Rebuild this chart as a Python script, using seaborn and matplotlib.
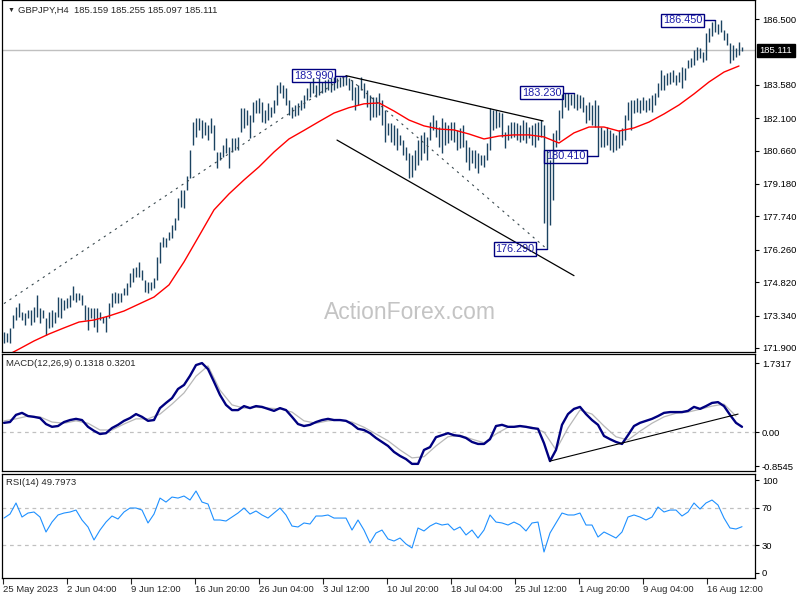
import numpy as np
import matplotlib
matplotlib.use("Agg")
import matplotlib.pyplot as plt
import matplotlib.transforms as mtransforms
import seaborn as sns

# GBPJPY H4 bars, 25 May 2023 - 18 Aug 2023
bar_high = [
    172.61, 172.57, 172.79, 173.36, 173.72, 173.90, 173.50, 173.45, 173.59, 173.59,
    173.72, 174.25, 173.67, 173.59, 173.23, 173.50, 173.59, 173.50, 174.16, 174.12,
    174.03, 174.12, 174.25, 174.65, 174.34, 174.34, 174.25, 173.81, 173.72, 173.67,
    173.67, 173.67, 173.50, 173.28, 173.32, 173.90, 174.34, 174.39, 174.34, 174.34,
    174.56, 174.79, 175.23, 175.45, 175.49, 175.72, 175.36, 174.92, 174.83, 174.83,
    175.01, 175.94, 176.61, 176.83, 176.78, 177.05, 177.36, 177.67, 178.56, 178.91,
    178.91, 179.54, 180.69, 181.93, 182.11, 182.11, 182.02, 181.93, 181.80, 182.11,
    181.80, 180.60, 180.60, 180.91, 181.22, 180.82, 181.22, 181.22, 181.27, 182.55,
    182.55, 182.47, 182.24, 182.82, 182.91, 183.00, 182.82, 182.47, 182.78, 182.60,
    182.91, 183.58, 183.71, 183.58, 183.44, 182.91, 182.60, 182.69, 182.78, 182.91,
    183.13, 183.44, 183.71, 183.89, 183.58, 183.89, 183.71, 183.80, 183.84, 183.89,
    183.93, 183.89, 183.93, 183.98, 183.99, 183.89, 183.80, 183.49, 183.58, 183.95,
    183.66, 183.35, 183.13, 183.04, 183.04, 183.22, 182.91, 182.47, 181.89, 181.89,
    181.80, 181.67, 181.36, 181.13, 180.82, 180.56, 180.47, 180.69, 181.13, 181.36,
    181.49, 181.27, 181.93, 182.24, 182.02, 181.71, 182.11, 181.93, 181.80, 181.93,
    181.93, 181.58, 181.67, 181.80, 181.13, 180.82, 180.69, 180.69, 180.56, 180.47,
    180.47, 181.00, 182.55, 182.47, 182.47, 182.38, 182.33, 181.49, 181.80, 181.93,
    181.93, 181.89, 181.80, 182.02, 181.93, 181.71, 181.80, 181.89, 181.93, 182.02,
    181.80, 180.69, 180.25, 181.45, 181.58, 182.47, 183.18, 183.21, 183.20, 183.19,
    183.23, 183.17, 183.13, 183.04, 182.69, 182.82, 182.69, 182.91, 182.69, 181.71,
    181.58, 181.71, 181.58, 181.45, 181.36, 181.58, 181.67, 182.24, 182.82, 182.91,
    182.91, 183.00, 182.91, 183.04, 182.91, 183.00, 183.13, 183.22, 183.66, 184.24,
    184.02, 184.11, 184.15, 184.24, 184.02, 184.15, 184.38, 184.33, 184.69, 184.77,
    185.13, 185.26, 185.22, 185.04, 185.88, 186.11, 186.37, 186.45, 186.28, 186.44,
    186.02, 185.88, 185.44, 185.35, 185.22, 185.49, 185.26,
]
bar_low = [
    172.12, 172.17, 172.12, 172.79, 173.14, 173.28, 173.14, 172.92, 173.23, 172.92,
    173.05, 173.28, 173.01, 173.23, 172.48, 172.79, 172.83, 173.01, 173.28, 173.23,
    173.59, 173.67, 173.72, 174.03, 173.94, 174.03, 173.81, 173.14, 172.70, 173.23,
    172.83, 172.61, 173.14, 173.01, 172.61, 173.23, 173.72, 173.90, 173.90, 173.94,
    174.25, 174.25, 174.61, 174.83, 175.05, 175.05, 174.92, 174.39, 174.34, 174.47,
    174.56, 174.92, 175.67, 176.38, 176.38, 176.69, 176.78, 177.14, 177.58, 178.16,
    178.11, 178.91, 179.45, 180.91, 181.27, 181.58, 181.22, 181.36, 181.13, 181.45,
    180.69, 179.89, 180.25, 180.38, 180.56, 179.89, 180.60, 180.69, 180.69, 181.49,
    181.67, 181.80, 181.22, 181.93, 182.33, 182.33, 181.93, 181.89, 182.02, 182.16,
    182.33, 182.69, 183.22, 183.00, 182.69, 182.24, 182.11, 182.20, 182.24, 182.47,
    182.55, 182.91, 183.04, 183.22, 183.04, 183.13, 183.22, 183.27, 183.35, 183.27,
    183.35, 183.44, 183.49, 183.53, 183.58, 183.35, 182.91, 182.47, 182.69, 183.35,
    183.00, 182.60, 182.02, 182.16, 182.16, 182.24, 181.80, 181.05, 181.36, 181.05,
    180.91, 180.69, 180.91, 180.47, 180.25, 179.45, 179.49, 179.80, 180.02, 180.25,
    180.56, 180.25, 181.13, 181.58, 181.27, 180.82, 180.56, 180.91, 181.00, 181.13,
    181.05, 180.69, 180.78, 180.82, 180.16, 179.80, 180.11, 179.89, 179.67, 180.02,
    179.94, 180.25, 180.69, 181.58, 181.67, 181.71, 181.27, 180.78, 181.13, 181.22,
    181.27, 181.13, 181.05, 181.13, 181.00, 181.22, 180.91, 180.82, 181.13, 181.27,
    177.45, 176.29, 177.36, 178.47, 180.82, 181.13, 182.11, 182.60, 182.47, 182.69,
    182.55, 182.47, 182.55, 182.38, 181.89, 182.02, 181.80, 181.71, 180.41, 180.82,
    180.82, 180.91, 180.69, 180.60, 180.69, 180.78, 180.91, 181.13, 182.02, 181.58,
    182.33, 182.38, 182.33, 182.47, 182.38, 182.47, 182.38, 182.69, 183.04, 183.35,
    183.35, 183.58, 183.62, 183.71, 183.58, 183.71, 183.44, 183.80, 184.33, 184.38,
    184.46, 184.69, 184.77, 184.60, 184.69, 185.49, 185.75, 185.93, 185.84, 185.93,
    185.57, 185.35, 184.55, 184.69, 184.82, 184.91, 185.10,
]
# red moving average, one reading every 5 bars
ma_line = [
    171.50, 171.85, 172.21, 172.52, 172.79, 173.05, 173.14, 173.32, 173.54, 173.85,
    174.16, 174.70, 175.72, 176.87, 178.03, 178.74, 179.36, 179.94, 180.60, 181.18,
    181.56, 181.95, 182.33, 182.57, 182.74, 182.78, 182.42, 182.02, 181.76, 181.62,
    181.58, 181.40, 181.18, 181.31, 181.36, 181.36, 181.27, 181.00, 181.45, 181.71,
    181.71, 181.53, 181.67, 181.93, 182.29, 182.69, 183.18, 183.71, 184.15, 184.42,
]
# MACD(12,26,9) main line, every 2 bars
macd_main = [
    0.23, 0.25, 0.43, 0.48, 0.40, 0.38, 0.35, 0.20, 0.13, 0.15,
    0.25, 0.30, 0.33, 0.30, 0.13, 0.03, -0.05, -0.03, 0.10, 0.18,
    0.28, 0.35, 0.45, 0.38, 0.28, 0.30, 0.60, 0.73, 0.85, 1.08,
    1.18, 1.41, 1.68, 1.73, 1.58, 1.26, 0.93, 0.68, 0.55, 0.55,
    0.65, 0.60, 0.65, 0.63, 0.58, 0.53, 0.60, 0.55, 0.38, 0.20,
    0.15, 0.18, 0.25, 0.30, 0.33, 0.30, 0.30, 0.28, 0.20, 0.08,
    0.05, -0.03, -0.15, -0.25, -0.35, -0.50, -0.60, -0.68, -0.80, -0.80,
    -0.45, -0.38, -0.13, -0.08, -0.03, -0.08, -0.10, -0.15, -0.25, -0.30,
    -0.30, -0.18, 0.15, 0.18, 0.13, 0.13, 0.15, 0.13, 0.10, 0.08,
    -0.28, -0.73, -0.45, 0.18, 0.45, 0.58, 0.63, 0.45, 0.30, 0.18,
    -0.10, -0.18, -0.25, -0.30, -0.08, 0.15, 0.23, 0.28, 0.33, 0.40,
    0.48, 0.50, 0.50, 0.50, 0.53, 0.63, 0.58, 0.65, 0.73, 0.75,
    0.65, 0.43, 0.23, 0.13,
]
# MACD signal line, every 4 bars
macd_signal = [
    0.28, 0.33, 0.40, 0.38, 0.25, 0.22, 0.28, 0.22, 0.05, 0.05,
    0.20, 0.33, 0.33, 0.45, 0.70, 0.98, 1.40, 1.66, 1.05, 0.68,
    0.60, 0.62, 0.60, 0.58, 0.50, 0.28, 0.22, 0.28, 0.30, 0.25,
    0.12, -0.05, -0.22, -0.45, -0.65, -0.62, -0.35, -0.12, -0.08, -0.18,
    -0.27, -0.05, 0.12, 0.14, 0.12, 0.00, -0.45, 0.10, 0.55, 0.45,
    0.15, -0.12, -0.20, 0.02, 0.22, 0.38, 0.47, 0.50, 0.57, 0.65,
    0.70, 0.40,
]
# RSI(14), every 2 bars
rsi_line = [
    59.1, 63.4, 75.3, 60.2, 64.5, 65.6, 60.2, 44.1, 54.8, 62.4,
    64.5, 65.6, 67.7, 57.0, 49.5, 35.5, 46.2, 54.8, 61.3, 58.1,
    65.6, 69.9, 69.9, 67.7, 53.8, 63.4, 80.6, 76.3, 81.7, 80.6,
    82.8, 78.5, 88.2, 76.3, 74.2, 57.0, 57.0, 55.9, 60.2, 64.5,
    69.9, 63.4, 66.7, 62.4, 59.1, 64.5, 69.9, 62.4, 50.5, 49.5,
    53.8, 52.7, 61.3, 61.3, 62.4, 59.1, 59.1, 59.1, 46.2, 57.0,
    46.2, 32.3, 43.0, 46.2, 36.6, 34.4, 37.6, 31.2, 26.9, 48.4,
    45.2, 50.5, 53.8, 51.6, 52.7, 46.2, 49.5, 40.9, 46.2, 37.6,
    46.2, 62.4, 54.8, 53.8, 51.6, 54.8, 51.6, 45.2, 53.8, 54.8,
    22.6, 43.0, 53.8, 64.5, 62.4, 62.4, 64.5, 51.6, 51.6, 38.7,
    44.1, 40.9, 37.6, 44.1, 60.2, 62.4, 60.2, 57.0, 60.2, 71.0,
    65.6, 67.7, 67.7, 61.3, 65.6, 75.3, 68.8, 75.3, 78.5, 73.1,
    59.1, 48.4, 47.3, 49.8,
]

price_ticks = [186.5, 183.58, 182.1, 180.66, 179.18, 177.74, 176.26, 174.82, 173.34, 171.9]
macd_ticks = [1.7317, 0.0, -0.8545]
macd_tick_labels = ["1.7317", "0.00", "-0.8545"]
rsi_ticks = [100, 70, 30, 0]
time_labels = ["25 May 2023", "2 Jun 04:00", "9 Jun 12:00", "16 Jun 20:00", "26 Jun 04:00",
               "3 Jul 12:00", "10 Jul 20:00", "18 Jul 04:00", "25 Jul 12:00", "1 Aug 20:00",
               "9 Aug 04:00", "16 Aug 12:00"]
last_ohlc = [185.159, 185.255, 185.097, 185.111]
macd_last = [0.1318, 0.3201]
rsi_last = 49.7973

# marked swings: bar number and price
swing_bar = [114, 190, 237, 198, 181]
swing_price = [183.990, 183.230, 186.450, 180.410, 176.290]

# hand drawn trend lines, (bar, price) end points
dashed_lines = [[(0, 173.87), (114, 183.99)], [(114, 183.99), (181, 176.29)]]
solid_lines = [[(114, 183.99), (179.7, 181.98)], [(111, 181.13), (190, 175.11)]]
macd_trend = [(182, -0.73), (244.7, 0.45)]

sns.set_style("white")
plt.rcParams['font.family'] = ['Liberation Sans', 'DejaVu Sans']
plt.rcParams['axes.linewidth'] = 0.9

W, H = 800, 600
fig = plt.figure(figsize=(8, 6), dpi=100)


def px_box(x0, y0, x1, y1):
    return [x0 / W, 1 - y1 / H, (x1 - x0) / W, (y1 - y0) / H]


ax_p = fig.add_axes(px_box(2, 0, 755, 352))
ax_m = fig.add_axes(px_box(2, 354, 755, 471))
ax_r = fig.add_axes(px_box(2, 474, 755, 578))

n_bars = len(bar_high)
bars = np.arange(n_bars)
xlim = (-2 / 3, 251 - 2 / 3)
fs = 6.8
bar_col = '#1b4361'
navy = '#000080'

for ax in (ax_p, ax_m, ax_r):
    ax.set_xlim(*xlim)
    for s in ax.spines.values():
        s.set_color('black')
        s.set_linewidth(0.9)
    ax.yaxis.tick_right()
    ax.tick_params(axis='y', direction='out', length=3, pad=2, labelsize=fs,
                   colors='black', width=0.8, right=True, left=False)
    ax.set_xticks([])

# ---- price panel ----
ax_p.set_ylim(171.72, 187.35)
ax_p.axhline(last_ohlc[3], color='#c0c0c0', lw=1)
ax_p.text(0.542, 0.111, "ActionForex.com", transform=ax_p.transAxes, ha='center',
          va='center', fontsize=16.5, color='#c4c4c4')
ax_p.vlines(bars, bar_low, bar_high, color=bar_col, lw=1.0)
sns.lineplot(x=np.arange(len(ma_line)) * 5, y=ma_line, ax=ax_p, color='red', lw=1)

for seg in dashed_lines:
    (xa, ya), (xb, yb) = seg
    ax_p.plot([xa, xb], [ya, yb], color='#3a4a50', lw=0.8, ls=(0, (2, 4)))
for seg in solid_lines:
    (xa, ya), (xb, yb) = seg
    ax_p.plot([xa, xb], [ya, yb], color='black', lw=0.9)

for b, p in zip(swing_bar, swing_price):
    ax_p.plot([b - 3.7, b], [p, p], color=navy, lw=1)
    ax_p.text(b - 4.2, p, f"{p:.3f}", ha='right', va='center', fontsize=7.8,
              color='#1c1ca8',
              bbox=dict(boxstyle='square,pad=0.15', fc='none', ec=navy, lw=1))

ax_p.set_yticks(price_ticks)
ax_p.set_yticklabels([f"{t:.3f}" for t in price_ticks])
tr = mtransforms.blended_transform_factory(ax_p.transAxes, ax_p.transData)
ax_p.text(1.006, last_ohlc[3], f"{last_ohlc[3]:.3f}", transform=tr, ha='left', va='center',
          fontsize=fs, color='white',
          bbox=dict(boxstyle='square,pad=0.25', fc='black', ec='black'))

# ---- MACD panel ----
ax_m.set_ylim(-0.979, 1.958)
ax_m.axhline(0, color='#c0c0c0', lw=0.9, ls=(0, (3, 3)))
sns.lineplot(x=np.arange(len(macd_signal)) * 4, y=macd_signal, ax=ax_m,
             color='#b8b8b8', lw=0.9)
sns.lineplot(x=np.arange(len(macd_main)) * 2, y=macd_main, ax=ax_m, color=navy, lw=1.7)
(xa, ya), (xb, yb) = macd_trend
ax_m.plot([xa, xb], [ya, yb], color='black', lw=0.8)
ax_m.set_yticks(macd_ticks)
ax_m.set_yticklabels(macd_tick_labels)
ax_m.text(0.005, 0.92, f"MACD(12,26,9) {macd_last[0]:.4f} {macd_last[1]:.4f}",
          transform=ax_m.transAxes, ha='left', va='center', fontsize=fs)

# ---- RSI panel ----
ax_r.set_ylim(-5.4, 106.5)
for lvl in (70, 30):
    ax_r.axhline(lvl, color='#c0c0c0', lw=0.9, ls=(0, (3, 3)))
sns.lineplot(x=np.arange(len(rsi_line)) * 2, y=rsi_line, ax=ax_r, color='#1e90ff', lw=0.8)
ax_r.set_yticks(rsi_ticks)
ax_r.set_yticklabels([str(t) for t in rsi_ticks])
ax_r.text(0.005, 0.92, f"RSI(14) {rsi_last:.4f}", transform=ax_r.transAxes,
          ha='left', va='center', fontsize=fs)

label_bars = -1 / 3 + np.arange(len(time_labels)) * 64 / 3
ax_r.set_xticks(label_bars)
ax_r.set_xticklabels(time_labels, ha='left')
ax_r.tick_params(axis='x', direction='out', length=4, pad=1, labelsize=fs,
                 bottom=True, width=0.8)

for ax in (ax_p, ax_m, ax_r):
    ax.set_xlabel('')
    ax.set_ylabel('')

# header
fig.text(8 / W, 1 - 10 / H, "▼", fontsize=5, va='center', ha='left')
fig.text(18 / W, 1 - 10.5 / H, "GBPJPY,H4  " + " ".join(f"{v:.3f}" for v in last_ohlc),
         fontsize=fs, va='center', ha='left')

fig.savefig("out.png", dpi=100, facecolor='white')
